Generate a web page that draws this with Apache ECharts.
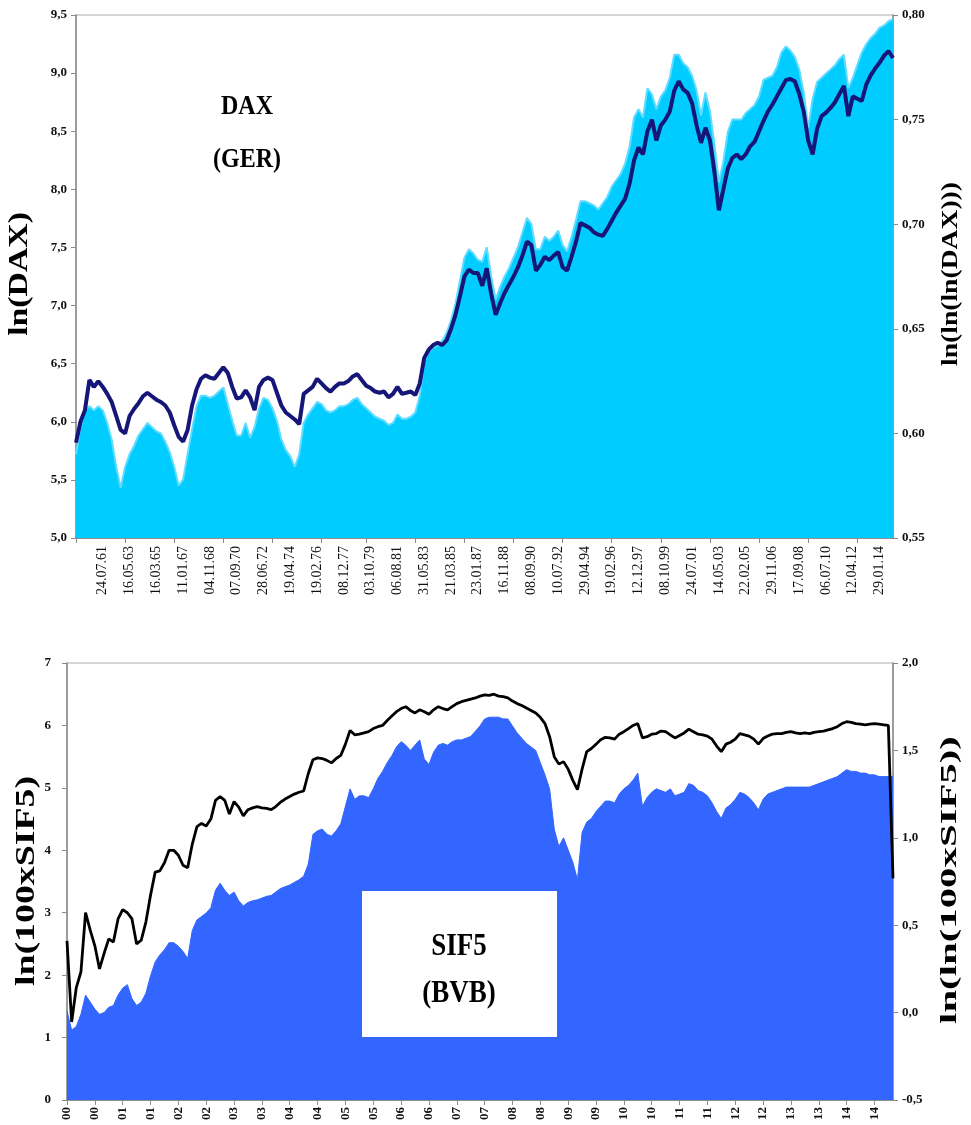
<!DOCTYPE html>
<html>
<head>
<meta charset="utf-8">
<script src="https://cdn.jsdelivr.net/npm/echarts@6/dist/echarts.min.js"></script>
<style>
  html, body { margin: 0; padding: 0; background: #fff; }
  #chart { width: 971px; height: 1125px; }
</style>
</head>
<body>
<div id="chart"></div>
<script>
// top panel: dates shown on the axis (every 6th point, starting at point 6)
var topDates = ['24.07.61','16.05.63','16.03.65','11.01.67','04.11.68','07.09.70','28.06.72','19.04.74',
    '19.02.76','08.12.77','03.10.79','06.08.81','31.05.83','21.03.85','23.01.87','16.11.88','08.09.90',
    '10.07.92','29.04.94','19.02.96','12.12.97','08.10.99','24.07.01','14.05.03','22.02.05','29.11.06',
    '17.09.08','06.07.10','12.04.12','29.01.14'];
var topTickIdx = [0,11,22,33,44,55,65,76,87,98,109,120,131,142,153,164,175];

// ln(DAX), left axis
var lnDax = [5.82,6.0,6.1,6.36,6.3,6.35,6.3,6.24,6.17,6.05,
    5.93,5.9,6.05,6.11,6.16,6.22,6.25,6.22,6.19,6.17,
    6.14,6.08,5.97,5.87,5.83,5.93,6.14,6.28,6.37,6.4,
    6.38,6.37,6.42,6.47,6.42,6.3,6.2,6.21,6.27,6.21,
    6.1,6.3,6.36,6.38,6.36,6.25,6.14,6.08,6.05,6.02,
    5.98,6.24,6.27,6.3,6.37,6.33,6.29,6.26,6.3,6.33,
    6.33,6.35,6.39,6.41,6.36,6.31,6.29,6.26,6.25,6.26,
    6.21,6.24,6.3,6.24,6.25,6.26,6.23,6.33,6.55,6.62,
    6.66,6.68,6.66,6.7,6.8,6.92,7.08,7.25,7.31,7.28,
    7.28,7.17,7.32,7.1,6.92,7.02,7.11,7.18,7.25,7.33,
    7.43,7.55,7.52,7.3,7.35,7.42,7.39,7.43,7.46,7.33,
    7.3,7.42,7.55,7.71,7.69,7.67,7.63,7.61,7.6,7.66,
    7.73,7.8,7.86,7.92,8.05,8.25,8.36,8.3,8.5,8.6,
    8.42,8.55,8.6,8.67,8.85,8.93,8.86,8.83,8.74,8.55,
    8.4,8.53,8.42,8.15,7.82,8.0,8.18,8.27,8.3,8.26,
    8.3,8.37,8.41,8.5,8.59,8.67,8.73,8.8,8.87,8.94,
    8.95,8.93,8.82,8.67,8.42,8.3,8.52,8.63,8.66,8.7,
    8.75,8.82,8.89,8.63,8.8,8.78,8.76,8.9,8.98,9.04,
    9.09,9.15,9.19,9.13];

// ln(ln(ln(DAX))), right axis, drawn as the filled area
var lnLnLnDax = [0.590,0.603,0.611,0.613,0.611,0.613,0.611,0.605,0.597,0.584,
    0.574,0.584,0.590,0.594,0.599,0.602,0.605,0.603,0.601,0.600,
    0.596,0.591,0.584,0.575,0.578,0.590,0.602,0.613,0.618,0.618,
    0.617,0.618,0.620,0.622,0.614,0.606,0.599,0.599,0.605,0.598,
    0.603,0.612,0.617,0.616,0.612,0.606,0.597,0.592,0.589,0.584,
    0.590,0.605,0.609,0.612,0.615,0.614,0.611,0.610,0.611,0.613,
    0.613,0.614,0.616,0.617,0.614,0.612,0.610,0.608,0.607,0.606,
    0.604,0.605,0.609,0.607,0.607,0.608,0.610,0.618,0.634,0.639,
    0.641,0.642,0.644,0.648,0.654,0.662,0.673,0.684,0.688,0.686,
    0.683,0.682,0.689,0.675,0.664,0.670,0.675,0.679,0.684,0.689,
    0.696,0.703,0.700,0.688,0.688,0.694,0.692,0.694,0.697,0.690,
    0.687,0.694,0.702,0.711,0.711,0.710,0.709,0.707,0.710,0.713,
    0.718,0.721,0.724,0.729,0.737,0.751,0.755,0.751,0.765,0.762,
    0.755,0.761,0.764,0.770,0.781,0.781,0.777,0.775,0.771,0.764,
    0.752,0.763,0.754,0.738,0.720,0.730,0.744,0.750,0.750,0.750,
    0.753,0.755,0.757,0.761,0.769,0.770,0.771,0.775,0.782,0.785,
    0.783,0.780,0.774,0.763,0.746,0.760,0.768,0.770,0.772,0.774,
    0.776,0.779,0.781,0.765,0.770,0.776,0.782,0.786,0.789,0.791,
    0.794,0.795,0.797,0.798];

// bottom panel: year labels, one every 6th point
var botYears = ['00','00','01','01','02','02','03','03','04','04','05','05','06','06','07','07',
    '08','08','09','09','10','10','11','11','12','12','13','13','14','14'];

// ln(100xSIF5), left axis
var lnSif = [2.55,1.25,1.8,2.05,3.0,2.72,2.47,2.1,2.35,2.58,
    2.53,2.9,3.05,3.0,2.9,2.5,2.56,2.85,3.28,3.65,
    3.67,3.8,4.0,4.0,3.92,3.76,3.72,4.1,4.38,4.43,
    4.39,4.5,4.8,4.86,4.8,4.58,4.78,4.69,4.55,4.65,
    4.68,4.7,4.68,4.67,4.65,4.7,4.77,4.82,4.86,4.9,
    4.93,4.95,5.23,5.45,5.48,5.47,5.44,5.4,5.47,5.52,
    5.7,5.92,5.85,5.86,5.88,5.9,5.95,5.98,6.0,6.08,
    6.15,6.22,6.27,6.3,6.24,6.2,6.25,6.22,6.18,6.25,
    6.3,6.27,6.25,6.3,6.35,6.38,6.4,6.42,6.44,6.47,
    6.49,6.48,6.5,6.47,6.46,6.44,6.39,6.35,6.32,6.28,
    6.24,6.2,6.13,6.03,5.82,5.5,5.38,5.42,5.3,5.12,
    4.97,5.3,5.58,5.63,5.7,5.77,5.81,5.8,5.78,5.86,
    5.9,5.95,6.0,6.03,5.8,5.82,5.86,5.87,5.91,5.9,
    5.85,5.8,5.84,5.88,5.94,5.9,5.86,5.85,5.83,5.78,
    5.67,5.58,5.7,5.73,5.78,5.87,5.85,5.83,5.78,5.7,
    5.79,5.83,5.86,5.87,5.87,5.89,5.9,5.88,5.87,5.88,
    5.87,5.89,5.9,5.91,5.93,5.95,5.98,6.03,6.06,6.05,
    6.03,6.02,6.01,6.02,6.03,6.02,6.01,6.0,3.55];

// ln(ln(100xSIF5)), right axis, filled area
var lnLnSif = [0.01,-0.1,-0.08,-0.01,0.1,0.06,0.02,-0.01,0.0,0.03,
    0.04,0.1,0.14,0.16,0.08,0.04,0.06,0.11,0.21,0.29,
    0.33,0.36,0.4,0.4,0.38,0.35,0.31,0.47,0.53,0.55,
    0.57,0.6,0.7,0.74,0.7,0.67,0.69,0.64,0.61,0.63,
    0.64,0.645,0.655,0.665,0.67,0.69,0.71,0.72,0.73,0.745,
    0.76,0.78,0.85,1.02,1.04,1.05,1.02,1.01,1.04,1.08,
    1.18,1.28,1.22,1.24,1.24,1.23,1.28,1.34,1.38,1.43,
    1.47,1.52,1.55,1.53,1.5,1.53,1.56,1.45,1.42,1.49,
    1.53,1.54,1.53,1.55,1.56,1.56,1.57,1.58,1.61,1.64,
    1.68,1.69,1.69,1.69,1.68,1.68,1.64,1.6,1.57,1.54,
    1.52,1.5,1.43,1.36,1.28,1.05,0.95,1.0,0.93,0.86,
    0.76,1.03,1.09,1.11,1.15,1.18,1.21,1.21,1.2,1.25,
    1.28,1.3,1.33,1.37,1.18,1.23,1.26,1.28,1.27,1.26,
    1.28,1.24,1.25,1.26,1.31,1.3,1.27,1.26,1.24,1.2,
    1.15,1.11,1.17,1.19,1.22,1.26,1.25,1.23,1.2,1.16,
    1.22,1.25,1.26,1.27,1.28,1.29,1.29,1.29,1.29,1.29,
    1.29,1.3,1.31,1.32,1.33,1.34,1.35,1.37,1.39,1.38,
    1.38,1.37,1.37,1.36,1.36,1.35,1.35,1.35,1.35];

var SERIF = '"Liberation Serif", "Times New Roman", serif';

function idxList(n) {
    var a = [];
    for (var i = 0; i < n; i++) a.push(String(i));
    return a;
}
function comma(d) {
    return function (v) { return v.toFixed(d).replace('.', ','); };
}
// bold serif text for the graphic layer (sx stretches along the text)
function label(text, x, y, size, rot, sx, sy) {
    return {
        type: 'text', x: x, y: y, z: 101,
        rotation: rot || 0, scaleX: sx || 1, scaleY: sy || 1,
        style: { text: text, font: 'bold ' + size + 'px ' + SERIF, fill: '#000', textAlign: 'center', textVerticalAlign: 'middle' }
    };
}

var myChart = echarts.init(document.getElementById('chart'));

var yLabel = { color: '#111', fontFamily: SERIF, fontSize: 13, fontWeight: 'bold' };
var axisGray = { lineStyle: { color: '#8a8a8a', width: 1.5 } };
var tickGray = { show: true, length: 5, lineStyle: { color: '#8a8a8a' } };

option = {
    animation: false,
    backgroundColor: '#fff',
    grid: [
        { left: 76, right: 78, top: 15, height: 523, show: true, borderColor: '#aaa', borderWidth: 1 },
        { left: 67, right: 78, top: 663, height: 437, show: true, borderColor: '#aaa', borderWidth: 1 }
    ],
    xAxis: [
        {
            gridIndex: 0,
            type: 'category',
            boundaryGap: false,
            data: idxList(lnDax.length),
            axisLine: { lineStyle: { color: '#777', width: 1.5 } },
            axisTick: {
                show: true, length: 5, lineStyle: { color: '#8a8a8a' },
                interval: function (i) { return topTickIdx.indexOf(i) >= 0; }
            },
            axisLabel: {
                rotate: 90, margin: 8,
                fontFamily: SERIF, fontSize: 14, color: '#111',
                interval: function (i) { return i >= 6 && (i - 6) % 6 === 0 && (i - 6) / 6 < topDates.length; },
                formatter: function (v, i) { return topDates[(i - 6) / 6] || ''; }
            },
            splitLine: { show: false }
        },
        {
            gridIndex: 1,
            type: 'category',
            boundaryGap: false,
            data: idxList(lnSif.length),
            axisLine: { lineStyle: { color: '#777', width: 1.5 } },
            axisTick: {
                show: true, length: 5, lineStyle: { color: '#8a8a8a' },
                interval: function (i) { return i % 6 === 0 && i / 6 < botYears.length; }
            },
            axisLabel: {
                rotate: 90, margin: 7,
                fontFamily: SERIF, fontSize: 13, fontWeight: 'bold', color: '#111',
                interval: function (i) { return i % 6 === 0 && i / 6 < botYears.length; },
                formatter: function (v, i) { return botYears[i / 6] || ''; }
            },
            splitLine: { show: false }
        }
    ],
    yAxis: [
        {
            gridIndex: 0, type: 'value', position: 'left',
            min: 5, max: 9.5, interval: 0.5,
            axisLine: Object.assign({ show: true }, axisGray), axisTick: tickGray,
            axisLabel: Object.assign({ margin: 9, formatter: comma(1) }, yLabel),
            splitLine: { show: false }
        },
        {
            gridIndex: 0, type: 'value', position: 'right',
            min: 0.55, max: 0.8, interval: 0.05,
            axisLine: Object.assign({ show: true }, axisGray), axisTick: tickGray,
            axisLabel: Object.assign({ margin: 9, formatter: comma(2) }, yLabel),
            splitLine: { show: false }
        },
        {
            gridIndex: 1, type: 'value', position: 'left',
            min: 0, max: 7, interval: 1,
            axisLine: Object.assign({ show: true }, axisGray), axisTick: tickGray,
            axisLabel: Object.assign({ margin: 16, formatter: comma(0) }, yLabel),
            splitLine: { show: false }
        },
        {
            gridIndex: 1, type: 'value', position: 'right',
            min: -0.5, max: 2, interval: 0.5,
            axisLine: Object.assign({ show: true }, axisGray), axisTick: tickGray,
            axisLabel: Object.assign({ margin: 9, formatter: comma(1) }, yLabel),
            splitLine: { show: false }
        }
    ],
    series: [
        {
            name: 'ln(ln(ln(DAX)))', type: 'line', xAxisIndex: 0, yAxisIndex: 1,
            data: lnLnLnDax, symbol: 'none', z: 1,
            lineStyle: { color: '#5fdcff', width: 2 },
            areaStyle: { color: '#00ccff', opacity: 1, origin: 'start' }
        },
        {
            name: 'ln(DAX)', type: 'line', xAxisIndex: 0, yAxisIndex: 0,
            data: lnDax, symbol: 'none', z: 3,
            lineStyle: { color: '#161678', width: 4 }
        },
        {
            name: 'ln(ln(100xSIF5))', type: 'line', xAxisIndex: 1, yAxisIndex: 3,
            data: lnLnSif, symbol: 'none', z: 1,
            lineStyle: { color: '#3366ff', width: 1 },
            areaStyle: { color: '#3366ff', opacity: 1, origin: 'start' }
        },
        {
            name: 'ln(100xSIF5)', type: 'line', xAxisIndex: 1, yAxisIndex: 2,
            data: lnSif, symbol: 'none', z: 3,
            lineStyle: { color: '#000', width: 2.8 }
        }
    ],
    graphic: [
        label('DAX', 247, 107, 24, 0, 1, 1.15),
        label('(GER)', 247, 160, 24, 0, 1, 1.15),
        { type: 'rect', z: 100, shape: { x: 362, y: 891, width: 195, height: 146 }, style: { fill: '#fff' } },
        label('SIF5', 459, 947, 27, 0, 1, 1.15),
        label('(BVB)', 459, 994, 27, 0, 1, 1.15),
        label('ln(DAX)', 20, 274, 27, Math.PI / 2, 1.25, 1),
        label('ln(ln(ln(DAX)))', 951, 274, 23, Math.PI / 2, 1.2, 1),
        label('ln(100xSIF5)', 27, 881, 27, Math.PI / 2, 1.4, 1),
        label('ln(ln(100xSIF5))', 950, 880, 24, Math.PI / 2, 1.7, 1)
    ]
};
myChart.setOption(option);
</script>
</body>
</html>
